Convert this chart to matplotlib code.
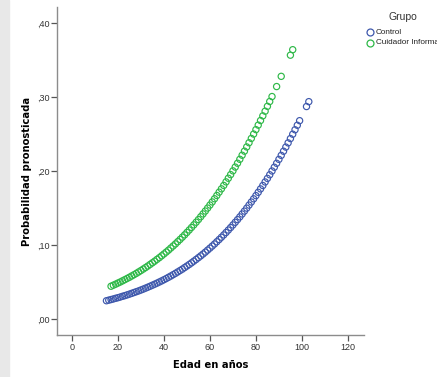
import matplotlib
matplotlib.use("Agg")
import matplotlib.pyplot as plt
from matplotlib.lines import Line2D
from matplotlib.patches import Rectangle

# predicted probability per age
ages_control = [15, 16, 17, 18, 19, 20, 21, 22, 23, 24, 25, 26, 27, 28, 29,
                30, 31, 32, 33, 34, 35, 36, 37, 38, 39, 40, 41, 42, 43, 44,
                45, 46, 47, 48, 49, 50, 51, 52, 53, 54, 55, 56, 57, 58, 59,
                60, 61, 62, 63, 64, 65, 66, 67, 68, 69, 70, 71, 72, 73, 74,
                75, 76, 77, 78, 79, 80, 81, 82, 83, 84, 85, 86, 87, 88, 89,
                90, 91, 92, 93, 94, 95, 96, 97, 98, 99, 102, 103]
prob_control = [0.0247, 0.0255, 0.0263, 0.0271, 0.0280, 0.0288, 0.0297, 0.0307,
                0.0316, 0.0326, 0.0336, 0.0347, 0.0358, 0.0369, 0.0380, 0.0392,
                0.0404, 0.0417, 0.0430, 0.0443, 0.0457, 0.0471, 0.0485, 0.0500,
                0.0515, 0.0531, 0.0547, 0.0564, 0.0581, 0.0599, 0.0617, 0.0636,
                0.0655, 0.0674, 0.0695, 0.0716, 0.0737, 0.0759, 0.0782, 0.0805,
                0.0829, 0.0853, 0.0878, 0.0904, 0.0931, 0.0958, 0.0986, 0.1014,
                0.1044, 0.1074, 0.1105, 0.1136, 0.1169, 0.1202, 0.1236, 0.1271,
                0.1307, 0.1343, 0.1380, 0.1419, 0.1458, 0.1498, 0.1539, 0.1581,
                0.1624, 0.1667, 0.1712, 0.1758, 0.1804, 0.1852, 0.1900, 0.1949,
                0.2000, 0.2051, 0.2104, 0.2157, 0.2211, 0.2267, 0.2323, 0.2380,
                0.2438, 0.2497, 0.2557, 0.2618, 0.2680, 0.2871, 0.2937]

ages_cuid = [17, 18, 19, 20, 21, 22, 23, 24, 25, 26, 27, 28, 29, 30, 31,
             32, 33, 34, 35, 36, 37, 38, 39, 40, 41, 42, 43, 44, 45, 46,
             47, 48, 49, 50, 51, 52, 53, 54, 55, 56, 57, 58, 59, 60, 61,
             62, 63, 64, 65, 66, 67, 68, 69, 70, 71, 72, 73, 74, 75, 76,
             77, 78, 79, 80, 81, 82, 83, 84, 85, 86, 87, 89, 91, 95, 96]
prob_cuid = [0.0443, 0.0457, 0.0471, 0.0486, 0.0500, 0.0516, 0.0532, 0.0548,
             0.0564, 0.0582, 0.0599, 0.0617, 0.0636, 0.0655, 0.0675, 0.0695,
             0.0716, 0.0738, 0.0760, 0.0782, 0.0806, 0.0829, 0.0854, 0.0879,
             0.0905, 0.0931, 0.0959, 0.0987, 0.1015, 0.1045, 0.1075, 0.1106,
             0.1137, 0.1170, 0.1203, 0.1237, 0.1272, 0.1308, 0.1344, 0.1382,
             0.1420, 0.1459, 0.1499, 0.1540, 0.1582, 0.1625, 0.1669, 0.1714,
             0.1759, 0.1805, 0.1853, 0.1902, 0.1951, 0.2002, 0.2053, 0.2105,
             0.2158, 0.2213, 0.2268, 0.2325, 0.2382, 0.2440, 0.2499, 0.2559,
             0.2620, 0.2682, 0.2745, 0.2808, 0.2874, 0.2939, 0.3006, 0.3141,
             0.3279, 0.3565, 0.3639]

# the reference legend shows the label cut at the right edge
group_names = ["Control", "Cuidador Informa"]
group_colors = ["#3E58AC", "#2EB848"]
xticks = [0, 20, 40, 60, 80, 100, 120]
yticks = [0.0, 0.1, 0.2, 0.3, 0.4]
ytick_labels = [",00", ",10", ",20", ",30", ",40"]

plt.rcParams["font.family"] = ["Liberation Sans", "DejaVu Sans"]

W, H = 437, 377
fig = plt.figure(figsize=(W / 100, H / 100), dpi=100)
fig.patches.append(Rectangle((0, 0), 9 / W, 1, transform=fig.transFigure,
                             color="#e8e8e8", zorder=0))
ax = fig.add_axes([57 / W, 1 - 335 / H, (364 - 57) / W, (335 - 7) / H])

ax.scatter(ages_control, prob_control, s=20, facecolors="none",
           edgecolors=group_colors[0], linewidths=0.85)
ax.scatter(ages_cuid, prob_cuid, s=20, facecolors="none",
           edgecolors=group_colors[1], linewidths=0.85)

ax.set_xlim(-6.5, 127)
ax.set_ylim(-0.0216, 0.4216)
ax.set_xticks(xticks)
ax.set_yticks(yticks)
ax.set_yticklabels(ytick_labels)

for side in ["top", "right"]:
    ax.spines[side].set_visible(False)
for side in ["left", "bottom"]:
    ax.spines[side].set_color("#8c8c8c")
    ax.spines[side].set_linewidth(1.0)
ax.tick_params(direction="out", length=4, width=0.9, color="#555555",
               labelsize=6.5, labelcolor="#333333", pad=1.5)

ax.set_xlabel("Edad en años", family="DejaVu Sans", fontweight="bold",
              fontsize=7.2, labelpad=6)
ax.set_ylabel("Probabilidad pronosticada", family="DejaVu Sans",
              fontweight="bold", fontsize=7.2, labelpad=3.5)

# legend placed by hand
fig.text(403 / W, 1 - 17.5 / H, "Grupo", ha="center", va="center",
         fontsize=7.5, color="#333333")
for i, (name, c) in enumerate(zip(group_names, group_colors)):
    y = 1 - (32 + i * 10.7) / H
    fig.add_artist(Line2D([369.5 / W], [y], transform=fig.transFigure,
                          linestyle="none", marker="o", markersize=5,
                          markerfacecolor="none", markeredgecolor=c,
                          markeredgewidth=0.9))
    fig.text(375.5 / W, y, name, ha="left", va="center", fontsize=5.9,
             color="#222222")

fig.savefig("out.png", dpi=100)
